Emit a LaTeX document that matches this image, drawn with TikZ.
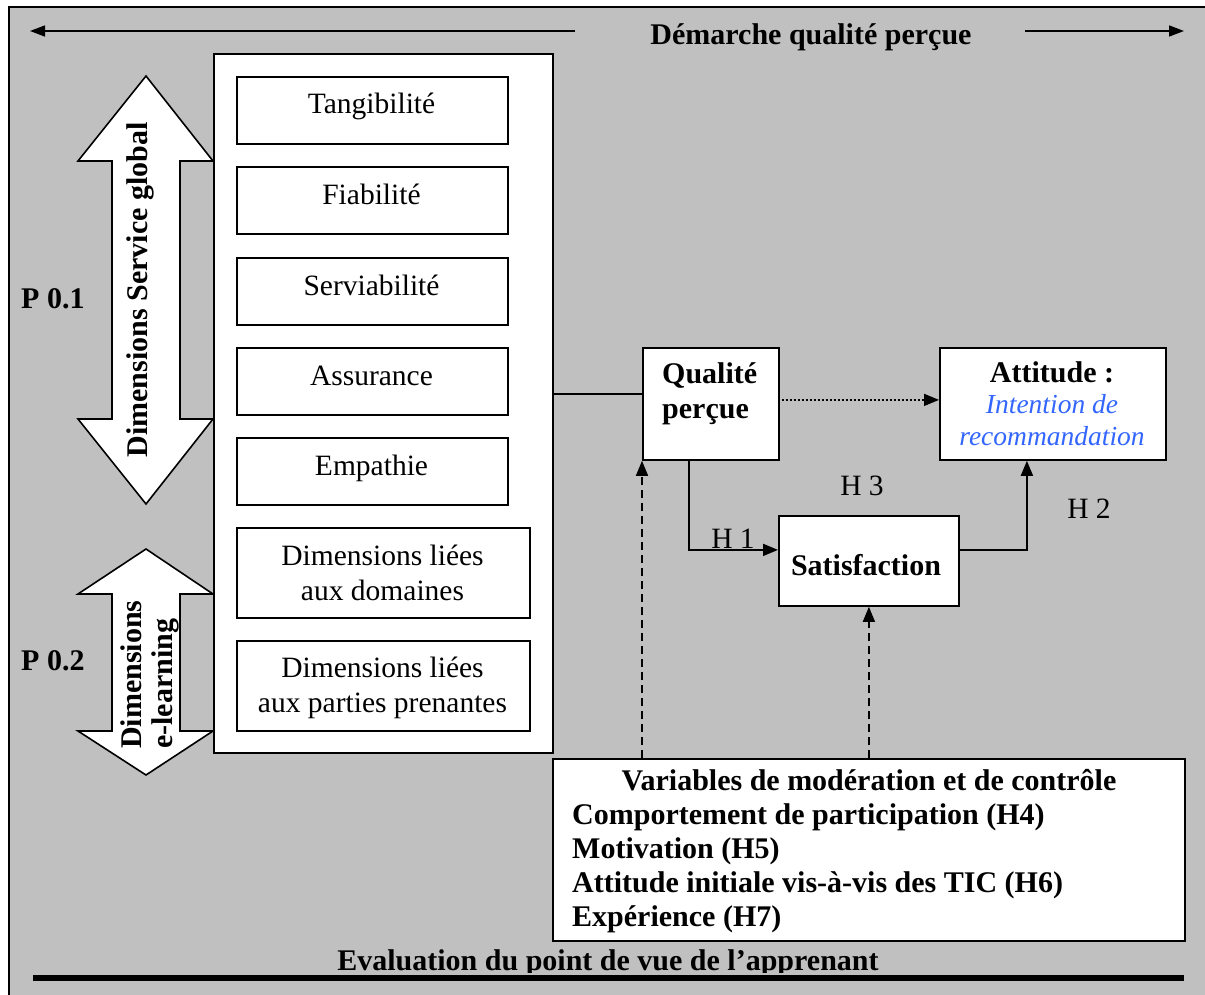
\documentclass[tikz,border=0pt]{standalone}
\usepackage{fontspec}
\setmainfont{Liberation Serif}
\usetikzlibrary{arrows.meta}
\definecolor{bggray}{RGB}{192,192,192}
\definecolor{blueit}{RGB}{51,102,255}
\tikzset{
  box/.style={draw=black, fill=white, line width=1.8pt, inner sep=0pt, anchor=north west},
  txt/.style={anchor=base, inner sep=0pt, font=\fontsize{29.5}{35}\selectfont},
  btxt/.style={anchor=base, inner sep=0pt, font=\fontsize{30}{36}\selectfont\bfseries},
  itxt/.style={anchor=base, inner sep=0pt, text=blueit, font=\fontsize{27.5}{33}\selectfont\itshape},
  conn/.style={line width=1.8pt},
  tipend/.style={-{Triangle[length=15pt,width=12pt]}},
  bigarrow/.style={draw=black, fill=white, line width=1.6pt, line join=miter},
}
\begin{document}
\begin{tikzpicture}[x=1pt,y=-1pt]
\useasboundingbox (0,0) rectangle (1205,995);
\clip (0,0) rectangle (1205,995);
% background
\fill[bggray] (9,7) rectangle (1215,1005);
\draw[line width=2pt] (9,1005) -- (9,7) -- (1215,7);

% top arrows and title
\node[btxt] (title) at (811,45) {Démarche qualité perçue};
\coordinate (la) at (575,31);
\coordinate (lt) at (30,31);
\coordinate (ra) at (1025,31);
\coordinate (rt) at (1184,31);
\draw[line width=1.5pt, -{Triangle[length=15pt,width=11pt]}] (la) -- (lt);
\draw[line width=1.5pt, -{Triangle[length=15pt,width=11pt]}] (ra) -- (rt);

% double arrows
\draw[bigarrow] (146,76) -- (213,161) -- (180,161) -- (180,419) -- (213,419) -- (146,504)
   -- (78,419) -- (112,419) -- (112,161) -- (78,161) -- cycle;
\draw[bigarrow] (146,549) -- (213,594) -- (180,594) -- (180,731) -- (213,731) -- (146,775)
   -- (78,731) -- (112,731) -- (112,594) -- (78,594) -- cycle;
\node[btxt, rotate=90] (dsg) at (147,290) {Dimensions Service global};
\node[btxt, rotate=90, anchor=base west] (del1) at (141,749) {Dimensions};
\node[btxt, rotate=90, anchor=base west] (del2) at (172,749) {e-learning};

\node[btxt, anchor=base west] (p01) at (21,308) {P 0.1};
\node[btxt, anchor=base west] (p02) at (21,670) {P 0.2};

% panel
\node[box, minimum width=339pt, minimum height=699pt] (panel) at (213,53) {};
\node[box, minimum width=271pt, minimum height=67pt] (b1) at (236,76) {};
\node[box, minimum width=271pt, minimum height=67pt] (b2) at (236,166.5) {};
\node[box, minimum width=271pt, minimum height=67pt] (b3) at (236,257) {};
\node[box, minimum width=271pt, minimum height=67pt] (b4) at (236,347) {};
\node[box, minimum width=271pt, minimum height=67pt] (b5) at (236,437) {};
\node[box, minimum width=293pt, minimum height=90pt] (b6) at (236,527) {};
\node[box, minimum width=293pt, minimum height=90pt] (b7) at (236,640) {};
\node[txt] (t1) at (371.5,114) {Tangibilité};
\node[txt] (t2) at (371.5,204.5) {Fiabilité};
\node[txt] (t3) at (371.5,295) {Serviabilité};
\node[txt] (t4) at (371.5,385) {Assurance};
\node[txt] (t5) at (371.5,475) {Empathie};
\node[txt] (t6a) at (382.5,565) {Dimensions liées};
\node[txt] (t6b) at (382.5,600) {aux domaines};
\node[txt] (t7a) at (382.5,677) {Dimensions liées};
\node[txt] (t7b) at (382.5,712) {aux parties prenantes};

% right boxes
\node[box, minimum width=136pt, minimum height=112pt] (qual) at (642,347) {};
\node[btxt, anchor=base west] (qt1) at (662,383) {Qualité};
\node[btxt, anchor=base west] (qt2) at (662,418) {perçue};
\node[box, minimum width=226pt, minimum height=112pt] (att) at (939,347) {};
\node[btxt] (at1) at (1052,382) {Attitude :};
\node[itxt] (at2) at (1052,413) {Intention de};
\node[itxt] (at3) at (1052,445) {recommandation};
\node[box, minimum width=180pt, minimum height=90pt] (sat) at (778,515) {};
\node[btxt] (st) at (866,575) {Satisfaction};
\node[box, minimum width=632pt, minimum height=182pt] (var) at (552,758) {};
\node[btxt] (v0) at (869,790) {Variables de modération et de contrôle};
\node[btxt, anchor=base west] (v1) at (572,824) {Comportement de participation (H4)};
\node[btxt, anchor=base west] (v2) at (572,858) {Motivation (H5)};
\node[btxt, anchor=base west] (v3) at (572,892) {Attitude initiale vis-à-vis des TIC (H6)};
\node[btxt, anchor=base west] (v4) at (572,926) {Expérience (H7)};

% labels
\node[txt] (h3) at (862,495) {H 3};
\node[txt] (h1) at (733,548) {H 1};
\node[txt] (h2) at (1089,518) {H 2};

% connectors
\draw[conn] ([yshift=10pt]qual.west -| panel.east) -- ([yshift=10pt]qual.west);
\draw[line width=1.5pt, dash pattern=on 2pt off 2pt, tipend] ([xshift=2pt,yshift=4pt]qual.east) -- ([yshift=4pt]qual.east -| att.west);
\draw[conn, tipend] ([xshift=-22pt]qual.south) |- ([yshift=11pt]sat.west);
\draw[conn, tipend] ([yshift=11pt]sat.east) -| ([xshift=-26pt]att.south);
\draw[line width=1.5pt, dash pattern=on 8pt off 5pt, tipend] (var.north -| qual.south west) -- (qual.south west);
\draw[line width=1.5pt, dash pattern=on 8pt off 5pt, tipend] (var.north -| sat.south) -- (sat.south);

% bottom
\begin{scope}
\clip (0,0) rectangle (1205,972);
\node[btxt] (evl) at (608,970) {Evaluation du point de vue de l’apprenant};
\end{scope}
\coordinate (bl) at (33,978);
\coordinate (br) at (1184,978);
\draw[line width=5.5pt] (bl) -- (br);
\end{tikzpicture}
\end{document}
